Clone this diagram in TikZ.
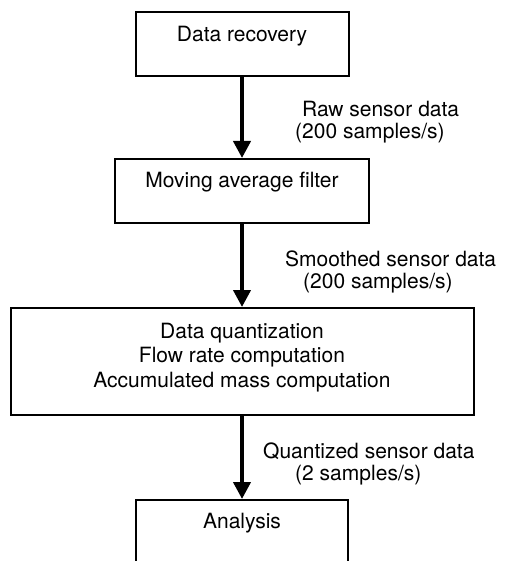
\documentclass[tikz,border=0pt]{standalone}
\usepackage{fontspec}
\setmainfont{TeX Gyre Heros}
\usetikzlibrary{arrows.meta}
\begin{document}
\begin{tikzpicture}[x=1pt,y=-1pt,
  box/.style={draw=black, line width=2pt, rectangle, inner sep=0pt},
  txt/.style={font=\fontsize{21}{24.5}\selectfont, inner sep=0pt, align=center},
  lbl/.style={font=\fontsize{21}{22}\selectfont, inner sep=0pt, align=left, anchor=base west},
  flow/.style={line width=4pt, -{Triangle[width=17pt,length=17pt]}}]
\useasboundingbox (0,0) rectangle (505,561);
\clip (0,0) rectangle (505,561);
\fill[white] (0,0) rectangle (505,561);
% boxes
\node[box, minimum width=213pt, minimum height=64pt] (b1) at (242,44) {};
\node[box, minimum width=254pt, minimum height=64pt] (b2) at (242,191) {};
\node[box, minimum width=463pt, minimum height=107pt] (b3) at (242,361.5) {};
\node[box, minimum width=212pt, minimum height=120pt, anchor=north] (b4) at (242,499) {};
% texts
\node[txt, anchor=base] (t1) at (242,42) {Data recovery};
\node[txt, anchor=base] (t2) at (242,188) {Moving average filter};
\node[txt, anchor=base] (t3) at (242,387) {Data quantization\\Flow rate computation\\Accumulated mass computation};
\node[txt, anchor=base] (t4) at (242,528) {Analysis};
% connectors
\draw[flow] (b1.south) -- (b2.north);
\draw[flow] (b2.south) -- (b3.north);
\draw[flow] (b3.south) -- (b4.north);
% labels
\node[lbl] (l1) at (295,139) {\hspace*{7pt}Raw sensor data\\(200 samples/s)};
\node[lbl] (l2) at (285,288) {Smoothed sensor data\\\hspace*{18pt}(200 samples/s)};
\node[lbl] (l3) at (263,480) {Quantized sensor data\\\hspace*{32pt}(2 samples/s)};
\end{tikzpicture}
\end{document}
